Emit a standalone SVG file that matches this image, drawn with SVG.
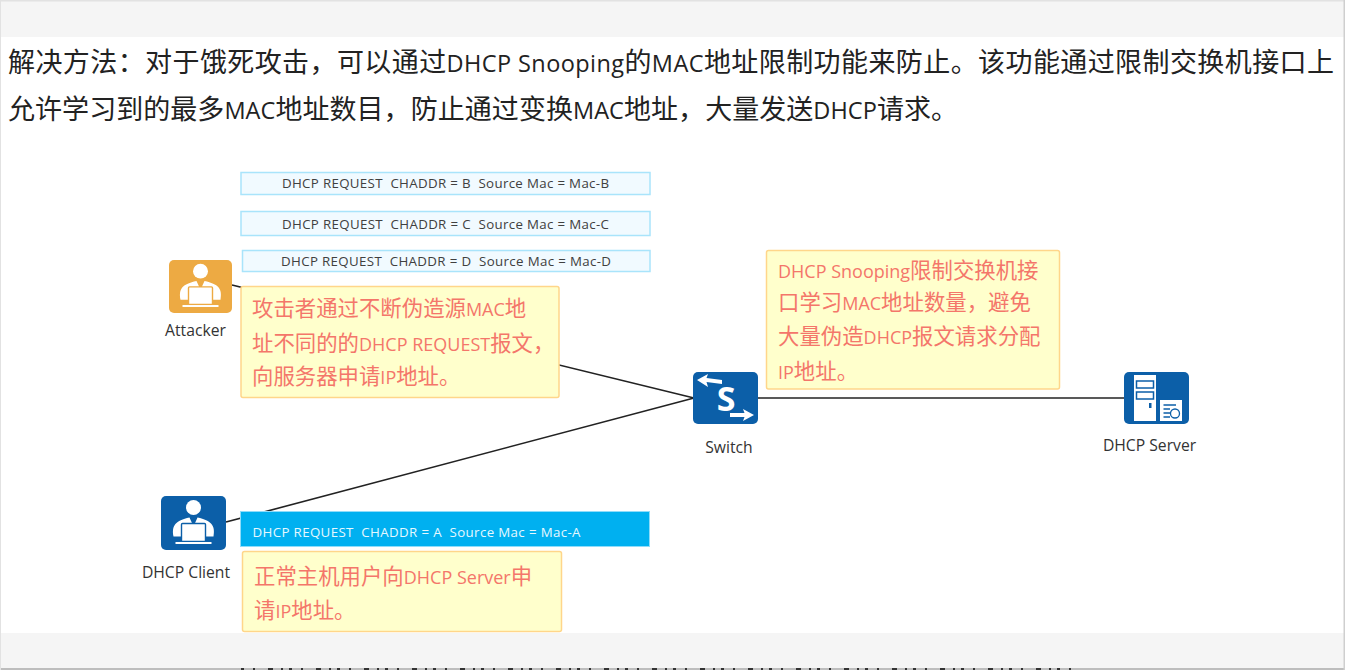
<svg xmlns="http://www.w3.org/2000/svg" width="1345" height="670" viewBox="0 0 1345 670">
<style>
text{font-family:"Open Sans","Noto Sans CJK SC","Noto Sans",sans-serif}
.h{font-size:27px;fill:#222;font-family:"Noto Sans CJK SC","Open Sans",sans-serif}
.h tspan{font-size:23.500px;font-family:"Open Sans",sans-serif}
.p{fill:#f1faff;stroke:#a9e4fb;stroke-width:1.500}
.pt{font-size:13.300px;fill:#404040}
.n{fill:#ffffcc;stroke:#ffd68a;stroke-width:1.500}
.nt{font-size:21.400px;fill:#f4766a;font-family:"Noto Sans CJK SC","Open Sans",sans-serif}
.nt tspan{font-size:18px;font-family:"Open Sans",sans-serif}
.l{font-size:15.700px;fill:#333}
.w{fill:#fff}
.c{stroke:#222;stroke-width:1.600;fill:none}
</style>
<defs>
<g id="person">
<circle cx="32" cy="14" r="7.500" fill="#fff"/>
<path d="M12 43 C10 32 14 27 28 24 L32 33 L36 24 C50 27 54 32 52 43 Z" fill="#fff"/>
<rect x="20" y="30" width="24" height="18" rx="1" fill="#fff" stroke="currentColor" stroke-width="1.400"/>
<rect x="14" y="48.500" width="36" height="2" fill="#fff"/>
</g>
</defs>
<rect width="1345" height="670" fill="#fff"/>
<rect x="0" y="0" width="1345" height="37" fill="#f5f5f5"/>
<rect x="0" y="0" width="1345" height="1.500" fill="#e2e2e2"/>
<rect x="0" y="633" width="1345" height="36" fill="#f5f5f5"/>
<rect x="0" y="668" width="1345" height="2" fill="#bdbdbd"/>
<line x1="241" y1="669" x2="1080" y2="669" stroke="#333" stroke-width="2" stroke-dasharray="3 9 2 13 5 8 2 6"/>
<rect x="1343.500" y="0" width="1.500" height="670" fill="#cfcfcf"/>
<rect x="0" y="0" width="1" height="670" fill="#e2e2e2"/>

<g id="connectors">
<line class="c" x1="232" y1="285" x2="694" y2="398"/>
<line class="c" x1="226" y1="522" x2="694" y2="398"/>
<line class="c" x1="757" y1="398" x2="1125" y2="398"/>
</g>

<g id="heading">
<text class="h" x="8" y="72" textLength="1326" lengthAdjust="spacing">解决方法：对于饿死攻击，可以通过<tspan>DHCP</tspan> <tspan>Snooping</tspan>的<tspan>MAC</tspan>地址限制功能来防止。该功能通过限制交换机接口上</text>
<text class="h" x="8" y="119" textLength="950" lengthAdjust="spacing">允许学习到的最多<tspan>MAC</tspan>地址数目，防止通过变换<tspan>MAC</tspan>地址，大量发送<tspan>DHCP</tspan>请求。</text>
</g>

<g id="packet-b"><rect class="p" x="241" y="172.500" width="409" height="22"/><text class="pt" x="282" y="187.500" textLength="327" xml:space="preserve">DHCP REQUEST  CHADDR = B  Source Mac = Mac-B</text></g>
<g id="packet-c"><rect class="p" x="241" y="211.500" width="409" height="24"/><text class="pt" x="282" y="228.500" textLength="327" xml:space="preserve">DHCP REQUEST  CHADDR = C  Source Mac = Mac-C</text></g>
<g id="packet-d"><rect class="p" x="242.500" y="250.500" width="407.500" height="21"/><text class="pt" x="281" y="265.500" textLength="330" xml:space="preserve">DHCP REQUEST  CHADDR = D  Source Mac = Mac-D</text></g>
<g id="packet-a"><rect x="240.500" y="511.500" width="409" height="35" fill="#00b0f0" stroke="#8fdcfa"/><text class="pt" x="252.500" y="536.500" textLength="328" style="fill:#e6f8ff" xml:space="preserve">DHCP REQUEST  CHADDR = A  Source Mac = Mac-A</text></g>

<g id="note-attacker"><rect class="n" x="241" y="286.500" width="318" height="111" rx="2"/>
<text class="nt" x="252" y="316">攻击者通过不断伪造源<tspan>MAC</tspan>地</text>
<text class="nt" x="252" y="351">址不同的的<tspan>DHCP REQUEST</tspan>报文，</text>
<text class="nt" x="252" y="384">向服务器申请<tspan>IP</tspan>地址。</text></g>

<g id="note-snooping"><rect class="n" x="766.500" y="250.500" width="293" height="138.500" rx="2"/>
<text class="nt" x="778" y="278"><tspan>DHCP Snooping</tspan>限制交换机接</text>
<text class="nt" x="778" y="310">口学习<tspan>MAC</tspan>地址数量，避免</text>
<text class="nt" x="778" y="344">大量伪造<tspan>DHCP</tspan>报文请求分配</text>
<text class="nt" x="778" y="379"><tspan>IP</tspan>地址。</text></g>

<g id="note-client"><rect class="n" x="242.500" y="551.500" width="319" height="80" rx="2"/>
<text class="nt" x="254" y="584">正常主机用户向<tspan>DHCP Server</tspan>申</text>
<text class="nt" x="254" y="618">请<tspan>IP</tspan>地址。</text></g>

<g id="attacker" color="#edaa43">
<rect x="169" y="260" width="63" height="53" rx="5" fill="#edaa43"/>
<g transform="translate(168.500,257.500) scale(1,0.98)"><use href="#person"/></g>
<text class="l" x="195.500" y="336" text-anchor="middle">Attacker</text></g>

<g id="client" color="#0c5fa8">
<rect x="161" y="496" width="65" height="54" rx="5" fill="#0c5fa8"/>
<g transform="translate(161.500,493.500)"><use href="#person"/></g>
<text class="l" x="186" y="578" text-anchor="middle">DHCP Client</text></g>

<g id="switch">
<rect x="693" y="372" width="65" height="52" rx="5" fill="#0c5fa8"/>
<path d="M697 380 L708 374 L706.500 378 L722 380 L722 384 L706.500 382 L708 387 Z" class="w"/>
<path d="M754 415 L743 409 L744.500 413 L730 413 L730 417 L744.500 417 L743 421 Z" class="w"/>
<text x="726" y="411" text-anchor="middle" font-size="34" font-weight="700" fill="#fff">S</text>
<text class="l" x="729" y="453" text-anchor="middle">Switch</text></g>

<g id="server">
<rect x="1124" y="372" width="65" height="52" rx="5" fill="#0c5fa8"/>
<rect x="1134" y="375" width="22" height="46" fill="#fff"/>
<rect x="1136.500" y="381" width="17" height="7" fill="#fff" stroke="#0c5fa8" stroke-width="1.500"/>
<rect x="1136.500" y="392" width="17" height="7" fill="#fff" stroke="#0c5fa8" stroke-width="1.500"/>
<rect x="1149" y="403" width="2.500" height="5" fill="#0c5fa8"/>
<rect x="1160" y="400" width="22" height="21" fill="#fff"/>
<path d="M1163.500 405 H1176 M1163.500 409 H1170 M1163.500 413 H1170 M1163.500 417 H1170" stroke="#0c5fa8" stroke-width="1.300"/>
<circle cx="1175" cy="413.500" r="4.500" fill="#fff" stroke="#0c5fa8" stroke-width="1.300"/>
<text class="l" x="1149.500" y="451" text-anchor="middle">DHCP Server</text></g>
</svg>
